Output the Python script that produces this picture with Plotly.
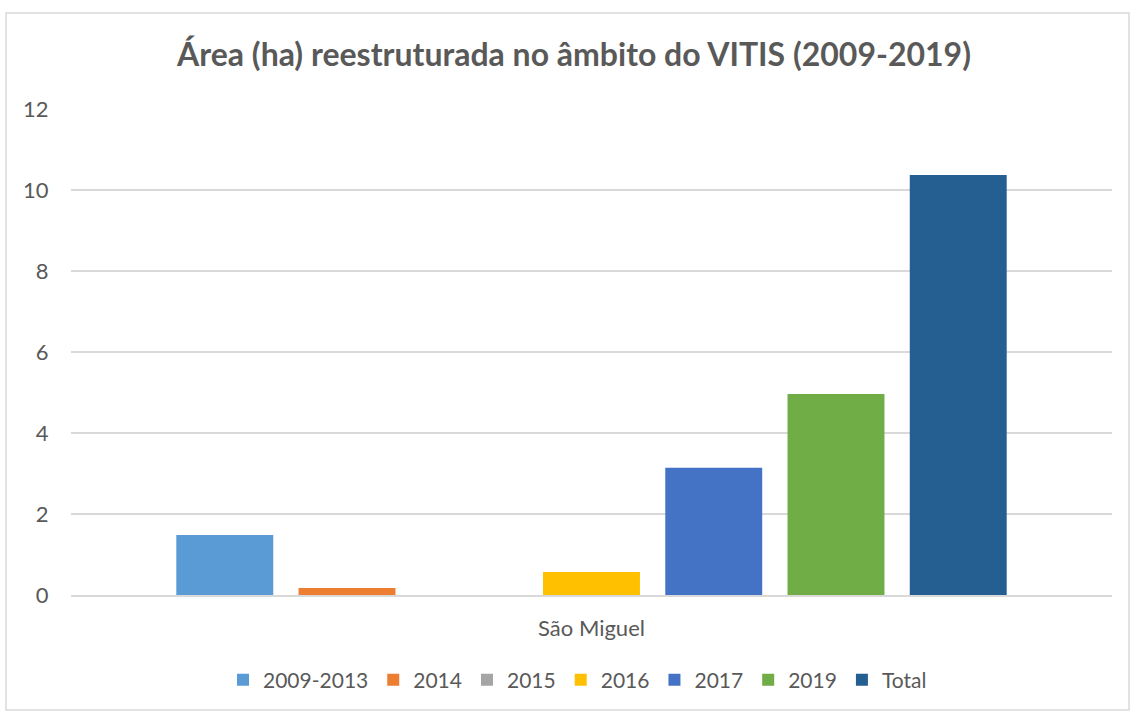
import plotly.graph_objects as go

category = ["São Miguel"]
series_names = ["2009-2013", "2014", "2015", "2016", "2017", "2019", "Total"]
series_values = [1.48, 0.17, 0.0, 0.57, 3.14, 4.96, 10.37]
series_colors = ["#5B9BD5", "#ED7D31", "#A5A5A5", "#FFC000", "#4472C4", "#70AD47", "#255E91"]
y_ticks = [0, 2, 4, 6, 8, 10, 12]

FONT = "Lato, 'Open Sans', sans-serif"
GREY = "#595959"

fig = go.Figure()
for name, val, col in zip(series_names, series_values, series_colors):
    fig.add_trace(go.Bar(name=name, x=category, y=[val], marker=dict(color=col, line=dict(width=0))))

W, H = 1131, 711
L, R, T, B = 71, 19, 109, 116
pw, ph = W - L - R, H - T - B

def px_x(x):
    return (x - L) / pw

def px_y(y):
    return (H - B - y) / ph

fig.update_layout(
    width=W, height=H,
    margin=dict(l=L, r=R, t=T, b=B, autoexpand=False),
    paper_bgcolor="white", plot_bgcolor="white",
    barmode="group", bargap=0.178, bargroupgap=0.207,
    font=dict(family=FONT, color=GREY, size=20),
    title=dict(text="<b>Área (ha) reestruturada no âmbito do VITIS (2009-2019)</b>",
               x=574 / W, xanchor="center", y=1 - 55 / H, yanchor="middle",
               font=dict(size=32, color=GREY, family=FONT)),
    showlegend=True,
    legend=dict(orientation="h", x=px_x(577.5), xanchor="center", y=px_y(680), yanchor="middle",
                font=dict(size=21, color=GREY, family=FONT), itemwidth=30, traceorder="normal"),
    xaxis=dict(showgrid=False, showline=True, linecolor="#D9D9D9", linewidth=1.5,
               tickfont=dict(size=22, color=GREY), ticks="outside", ticklen=13, tickcolor="rgba(0,0,0,0)"),
    yaxis=dict(range=[0, 12], tickvals=y_ticks, showgrid=True, gridcolor="#D9D9D9", gridwidth=1.5,
               zeroline=False, showline=False, tickfont=dict(size=22, color=GREY),
               ticks="outside", ticklen=17, tickcolor="rgba(0,0,0,0)"),
    shapes=[dict(type="rect", xref="paper", yref="paper",
                 x0=px_x(6), x1=px_x(1129), y0=px_y(710), y1=px_y(13),
                 line=dict(color="#D9D9D9", width=1.5), fillcolor="rgba(0,0,0,0)", layer="below")],
)

fig.write_html("out.html", config={"displayModeBar": False},
               post_script="document.body.style.margin='0';document.body.style.overflow='hidden';")
